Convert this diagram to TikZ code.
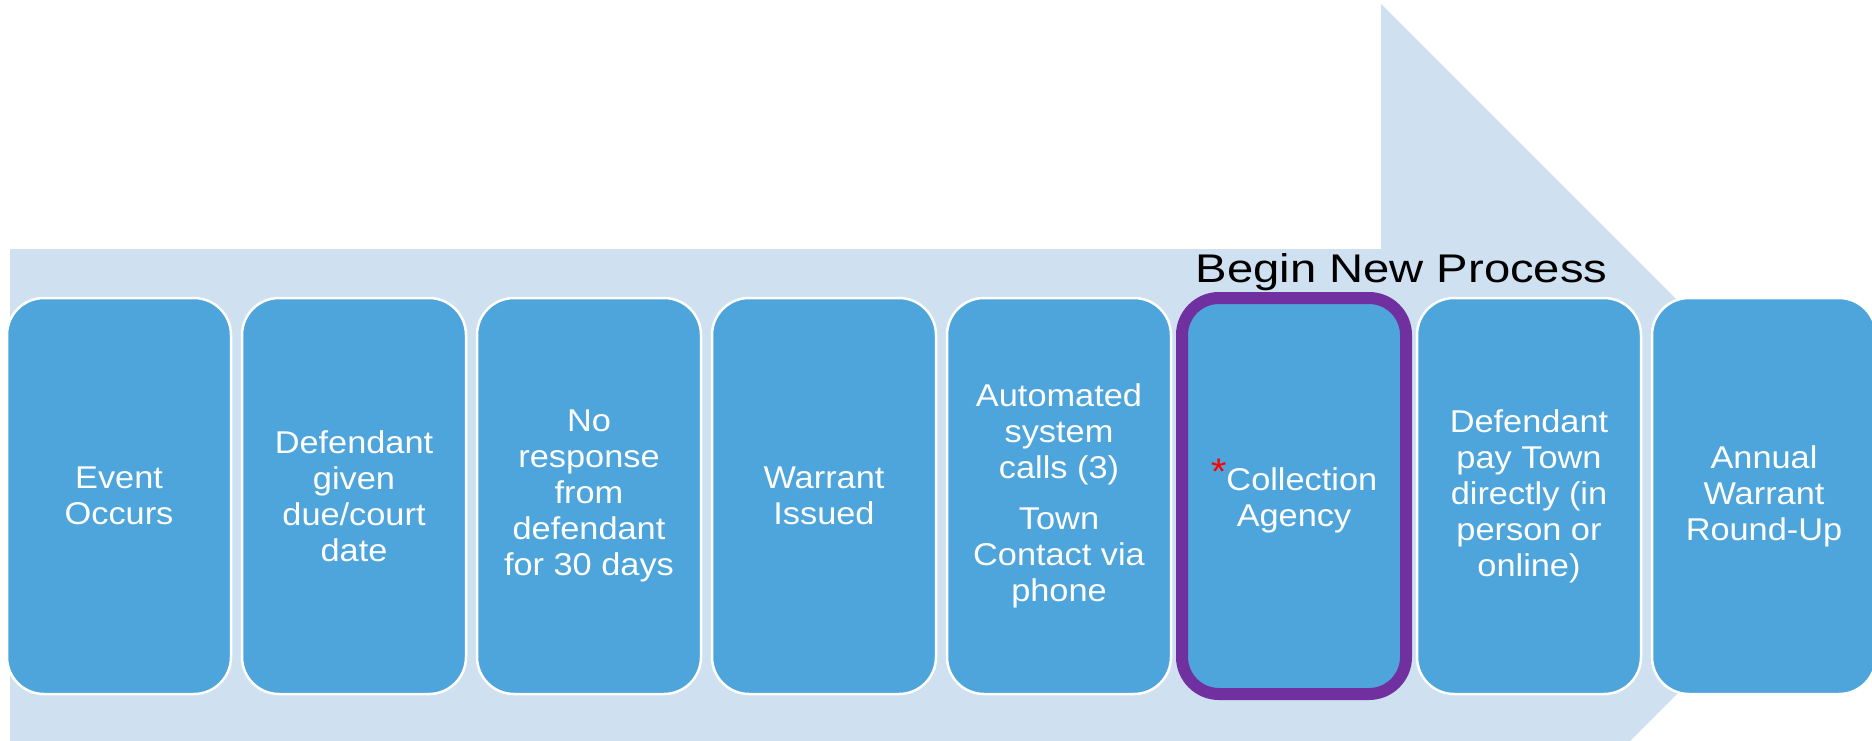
\documentclass[tikz,border=0pt]{standalone}
\usepackage{fontspec}
\newfontfamily\boxfont{Liberation Sans}[FakeStretch=1.09]
\newfontfamily\headfont{Liberation Sans}[FakeStretch=1.18]
\definecolor{arrowbg}{HTML}{CFE0F1}
\definecolor{stepblue}{HTML}{4EA5DB}
\definecolor{markpurple}{HTML}{7030A0}
\begin{document}
\begin{tikzpicture}[x={(1pt,0)}, y={(0,-1pt)},
  stepbox/.style={draw=white, line width=2.5pt, fill=stepblue, rounded corners=37pt,
    minimum width=224pt, minimum height=396pt, inner sep=0pt, align=center,
    text=white, font=\boxfont\fontsize{31.5}{36}\selectfont},
  highlight/.style={stepbox, draw=markpurple, line width=12pt},
  headline/.style={anchor=base, inner sep=0pt, font=\headfont\fontsize{40}{44}\selectfont}]
  \useasboundingbox (0,0) rectangle (1872,740);
  \clip (0,0) rectangle (1872,740);

  % large background arrow
  \fill[arrowbg] (10,249) -- (1381,249) -- (1381,4) -- (1874,497)
    -- (1381,990) -- (1381,745) -- (10,745) -- cycle;

  % process steps
  \node[stepbox] (s1) at (119,496) {Event\\Occurs};
  \node[stepbox] (s2) at (354,496) {Defendant\\given\\due/court\\date};
  \node[stepbox] (s3) at (589,496) {No\\response\\from\\defendant\\for 30 days};
  \node[stepbox] (s4) at (824,496) {Warrant\\Issued};
  \node[stepbox] (s5) at (1059,496) {Automated\\system\\calls (3)\\[15pt]Town\\Contact via\\phone};
  \node[stepbox] (s7) at (1529,496) {Defendant\\pay Town\\directly (in\\person or\\online)};
  \node[stepbox] (s8) at (1764,496) {Annual\\Warrant\\Round-Up};
  \node[highlight] (s6) at (1294,496)
    {{\color{red}\raisebox{6pt}{\fontsize{37}{36}\selectfont *}}Collection\\Agency};

  % label over the new step
  \node[headline] (head) at (1401.5,282) {Begin New Process};
\end{tikzpicture}
\end{document}
